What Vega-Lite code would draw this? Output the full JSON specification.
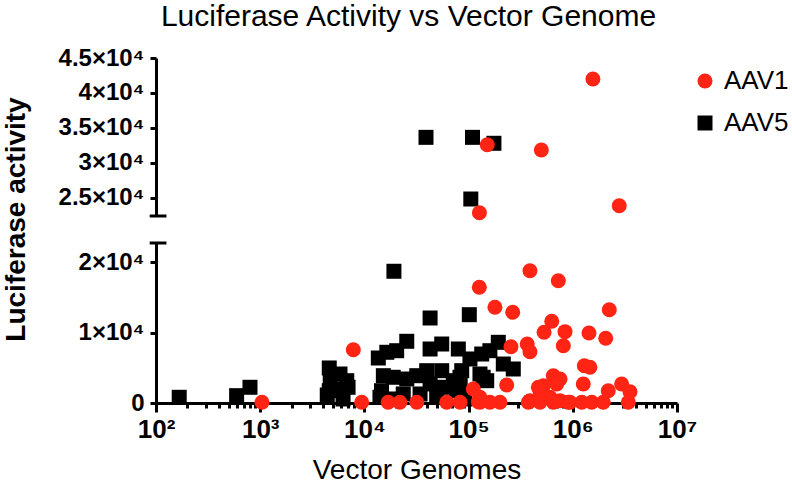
{
  "$schema": "https://vega.github.io/schema/vega-lite/v6.json",
  "background": "white",
  "padding": {"left": 2, "top": 2, "right": 0, "bottom": 0},
  "title": {"text": "Luciferase Activity vs Vector Genome", "font": "Liberation Sans", "fontSize": 30, "fontWeight": "normal", "color": "#000000", "anchor": "middle", "offset": 14, "dx": 13},
  "datasets": {
    "pts": [
      {"vector": "AAV5", "vg": 39000, "luc": 33650},
      {"vector": "AAV5", "vg": 109000, "luc": 33650},
      {"vector": "AAV5", "vg": 175000, "luc": 32800},
      {"vector": "AAV5", "vg": 105000, "luc": 24830},
      {"vector": "AAV5", "vg": 167, "luc": 810},
      {"vector": "AAV5", "vg": 594, "luc": 1040},
      {"vector": "AAV5", "vg": 798, "luc": 2230},
      {"vector": "AAV5", "vg": 4600, "luc": 4970},
      {"vector": "AAV5", "vg": 5830, "luc": 4115},
      {"vector": "AAV5", "vg": 6770, "luc": 3165},
      {"vector": "AAV5", "vg": 4600, "luc": 1745},
      {"vector": "AAV5", "vg": 5830, "luc": 1990},
      {"vector": "AAV5", "vg": 6970, "luc": 2230},
      {"vector": "AAV5", "vg": 6240, "luc": 570},
      {"vector": "AAV5", "vg": 4700, "luc": 3165},
      {"vector": "AAV5", "vg": 4400, "luc": 1135},
      {"vector": "AAV5", "vg": 25500, "luc": 8755},
      {"vector": "AAV5", "vg": 20400, "luc": 7420},
      {"vector": "AAV5", "vg": 16400, "luc": 7195},
      {"vector": "AAV5", "vg": 13600, "luc": 6385},
      {"vector": "AAV5", "vg": 42700, "luc": 12060},
      {"vector": "AAV5", "vg": 19200, "luc": 18690},
      {"vector": "AAV5", "vg": 15200, "luc": 3875},
      {"vector": "AAV5", "vg": 18900, "luc": 3650},
      {"vector": "AAV5", "vg": 14600, "luc": 1745},
      {"vector": "AAV5", "vg": 25500, "luc": 3405},
      {"vector": "AAV5", "vg": 31800, "luc": 3875},
      {"vector": "AAV5", "vg": 39600, "luc": 4585},
      {"vector": "AAV5", "vg": 42700, "luc": 2700},
      {"vector": "AAV5", "vg": 23600, "luc": 1280},
      {"vector": "AAV5", "vg": 34200, "luc": 1280},
      {"vector": "AAV5", "vg": 14100, "luc": 810},
      {"vector": "AAV5", "vg": 49400, "luc": 810},
      {"vector": "AAV5", "vg": 42700, "luc": 7660},
      {"vector": "AAV5", "vg": 55200, "luc": 8370},
      {"vector": "AAV5", "vg": 79700, "luc": 7660},
      {"vector": "AAV5", "vg": 55200, "luc": 4585},
      {"vector": "AAV5", "vg": 57200, "luc": 2230},
      {"vector": "AAV5", "vg": 71300, "luc": 3165},
      {"vector": "AAV5", "vg": 76900, "luc": 1745},
      {"vector": "AAV5", "vg": 101600, "luc": 12530},
      {"vector": "AAV5", "vg": 103000, "luc": 6245},
      {"vector": "AAV5", "vg": 133600, "luc": 6950},
      {"vector": "AAV5", "vg": 160000, "luc": 7420},
      {"vector": "AAV5", "vg": 192800, "luc": 8610},
      {"vector": "AAV5", "vg": 215300, "luc": 5530},
      {"vector": "AAV5", "vg": 268500, "luc": 4825},
      {"vector": "AAV5", "vg": 85900, "luc": 4585},
      {"vector": "AAV5", "vg": 128500, "luc": 4115},
      {"vector": "AAV5", "vg": 149200, "luc": 3165},
      {"vector": "AAV5", "vg": 138000, "luc": 3650},
      {"vector": "AAV5", "vg": 82600, "luc": 3650},
      {"vector": "AAV5", "vg": 82600, "luc": 2455},
      {"vector": "AAV5", "vg": 19700, "luc": 570},
      {"vector": "AAV5", "vg": 92000, "luc": 570},
      {"vector": "AAV1", "vg": 1560000, "luc": 42000},
      {"vector": "AAV1", "vg": 151000, "luc": 32600},
      {"vector": "AAV1", "vg": 499000, "luc": 31840},
      {"vector": "AAV1", "vg": 127000, "luc": 22870},
      {"vector": "AAV1", "vg": 2790000, "luc": 23870},
      {"vector": "AAV1", "vg": 1040, "luc": 100},
      {"vector": "AAV1", "vg": 7830, "luc": 7560},
      {"vector": "AAV1", "vg": 9420, "luc": 100},
      {"vector": "AAV1", "vg": 16900, "luc": 100},
      {"vector": "AAV1", "vg": 21900, "luc": 100},
      {"vector": "AAV1", "vg": 31800, "luc": 100},
      {"vector": "AAV1", "vg": 61600, "luc": 100},
      {"vector": "AAV1", "vg": 82700, "luc": 100},
      {"vector": "AAV1", "vg": 124000, "luc": 185},
      {"vector": "AAV1", "vg": 111000, "luc": 1990},
      {"vector": "AAV1", "vg": 128500, "luc": 810},
      {"vector": "AAV1", "vg": 126700, "luc": 16420},
      {"vector": "AAV1", "vg": 179000, "luc": 13580},
      {"vector": "AAV1", "vg": 265000, "luc": 12870},
      {"vector": "AAV1", "vg": 388000, "luc": 18770},
      {"vector": "AAV1", "vg": 726000, "luc": 17350},
      {"vector": "AAV1", "vg": 2240000, "luc": 13240},
      {"vector": "AAV1", "vg": 628000, "luc": 11590},
      {"vector": "AAV1", "vg": 530000, "luc": 10030},
      {"vector": "AAV1", "vg": 842000, "luc": 10120},
      {"vector": "AAV1", "vg": 1430000, "luc": 9930},
      {"vector": "AAV1", "vg": 2070000, "luc": 9180},
      {"vector": "AAV1", "vg": 365000, "luc": 8370},
      {"vector": "AAV1", "vg": 388000, "luc": 7280},
      {"vector": "AAV1", "vg": 811000, "luc": 8130},
      {"vector": "AAV1", "vg": 255000, "luc": 7990},
      {"vector": "AAV1", "vg": 232000, "luc": 2555},
      {"vector": "AAV1", "vg": 1290000, "luc": 5290},
      {"vector": "AAV1", "vg": 1460000, "luc": 5070},
      {"vector": "AAV1", "vg": 2940000, "luc": 2700},
      {"vector": "AAV1", "vg": 3540000, "luc": 1600},
      {"vector": "AAV1", "vg": 2190000, "luc": 1745},
      {"vector": "AAV1", "vg": 1260000, "luc": 2700},
      {"vector": "AAV1", "vg": 650000, "luc": 3875},
      {"vector": "AAV1", "vg": 754000, "luc": 3405},
      {"vector": "AAV1", "vg": 467000, "luc": 2230},
      {"vector": "AAV1", "vg": 521000, "luc": 2455},
      {"vector": "AAV1", "vg": 701000, "luc": 2700},
      {"vector": "AAV1", "vg": 484000, "luc": 1745},
      {"vector": "AAV1", "vg": 604000, "luc": 810},
      {"vector": "AAV1", "vg": 388000, "luc": 330},
      {"vector": "AAV1", "vg": 754000, "luc": 330},
      {"vector": "AAV1", "vg": 906000, "luc": 100},
      {"vector": "AAV1", "vg": 160000, "luc": 100},
      {"vector": "AAV1", "vg": 200000, "luc": 100},
      {"vector": "AAV1", "vg": 374000, "luc": 100},
      {"vector": "AAV1", "vg": 484000, "luc": 100},
      {"vector": "AAV1", "vg": 650000, "luc": 100},
      {"vector": "AAV1", "vg": 940000, "luc": 100},
      {"vector": "AAV1", "vg": 1220000, "luc": 100},
      {"vector": "AAV1", "vg": 1520000, "luc": 100},
      {"vector": "AAV1", "vg": 1960000, "luc": 100},
      {"vector": "AAV1", "vg": 3410000, "luc": 100},
      {"vector": "AAV1", "vg": 128500, "luc": 100}
    ]
  },
  "spacing": 27,
  "bounds": "flush",
  "resolve": {"scale": {"y": "independent", "x": "shared", "color": "shared", "shape": "shared"}},
  "config": {
    "view": {"stroke": null},
    "axis": {"domainColor": "#000000", "domainWidth": 3, "tickColor": "#000000", "tickWidth": 3, "labelColor": "#000000", "labelFont": "Liberation Sans", "labelFontWeight": "bold", "grid": false, "titleColor": "#000000", "titleFont": "Liberation Sans"},
    "legend": {"orient": "none", "legendX": 536, "legendY": 10, "title": null, "labelFontSize": 26, "labelFont": "Liberation Sans", "labelColor": "#000000", "symbolSize": 225, "rowPadding": 16, "labelOffset": 6, "symbolStrokeWidth": 0, "symbolOpacity": 1, "labelLimit": 0}
  },
  "vconcat": [
    {
      "width": 521,
      "height": 158,
      "layer": [
        {
          "data": {"name": "pts"},
          "transform": [{"filter": "datum.luc > 22600"}],
          "mark": {"type": "point", "filled": true, "opacity": 1, "size": 225, "strokeWidth": 0},
          "encoding": {
            "x": {"field": "vg", "type": "quantitative", "scale": {"type": "log", "domain": [100, 10000000]}, "axis": null},
            "y": {"field": "luc", "type": "quantitative", "scale": {"domain": [22400, 45000], "nice": false, "zero": false},
                  "axis": {"title": null, "values": [25000, 30000, 35000, 40000, 45000], "labelExpr": "format(datum.value/10000, '.2~f') + '×10⁴'", "labelFontSize": 24, "tickSize": 6, "labelPadding": 6}},
            "color": {"field": "vector", "type": "nominal", "scale": {"domain": ["AAV1", "AAV5"], "range": ["#ff2413", "#000000"]}, "legend": {"title": null}},
            "shape": {"field": "vector", "type": "nominal", "scale": {"domain": ["AAV1", "AAV5"], "range": ["circle", "square"]}, "legend": {"title": null}},
            "order": {"field": "vector", "sort": "descending"}
          }
        },
        {
          "data": {"values": [{}]},
          "mark": {"type": "rule", "strokeWidth": 3, "color": "#000000"},
          "encoding": {
            "x": {"datum": 87, "type": "quantitative", "axis": null},
            "x2": {"datum": 126},
            "y": {"datum": 22400, "type": "quantitative",
                  "axis": {"title": null, "values": [25000, 30000, 35000, 40000, 45000], "labelExpr": "format(datum.value/10000, '.2~f') + '×10⁴'", "labelFontSize": 24, "tickSize": 6, "labelPadding": 6}}
          }
        }
      ]
    },
    {
      "width": 521,
      "height": 160,
      "layer": [
        {
          "data": {"name": "pts"},
          "transform": [{"filter": "datum.luc < 22600"}],
          "mark": {"type": "point", "filled": true, "opacity": 1, "size": 225, "strokeWidth": 0},
          "encoding": {
            "x": {"field": "vg", "type": "quantitative", "scale": {"type": "log", "domain": [100, 10000000]},
                  "axis": {"title": "Vector Genomes", "titleFontSize": 28, "titleFontWeight": "normal", "titlePadding": 14,
                           "values": [100,200,300,400,500,600,700,800,900,1000,2000,3000,4000,5000,6000,7000,8000,9000,10000,20000,30000,40000,50000,60000,70000,80000,90000,100000,200000,300000,400000,500000,600000,700000,800000,900000,1000000,2000000,3000000,4000000,5000000,6000000,7000000,8000000,9000000,10000000],
                           "labelExpr": "indexof([100,1000,10000,100000,1000000,10000000], datum.value) >= 0 ? '10' + ['²','³','⁴','⁵','⁶','⁷'][indexof([100,1000,10000,100000,1000000,10000000], datum.value)] : ''",
                           "tickSize": {"condition": {"test": "indexof([100,1000,10000,100000,1000000,10000000], datum.value) >= 0", "value": 9}, "value": 5},
                           "labelFontSize": 26, "labelPadding": 4, "labelOverlap": false, "labelFlush": false}},
            "y": {"field": "luc", "type": "quantitative", "scale": {"domain": [0, 22700], "nice": false},
                  "axis": {"title": "Luciferase activity", "titleFontSize": 28, "titleFontWeight": "bold", "titleX": -132, "titleY": -24, "titleBaseline": "alphabetic", "titleAlign": "center", "titleAngle": -90,
                           "values": [0, 10000, 20000], "labelExpr": "datum.value == 0 ? '0' : format(datum.value/10000, '.2~f') + '×10⁴'", "labelFontSize": 24, "tickSize": 6, "labelPadding": 6}},
            "color": {"field": "vector", "type": "nominal", "scale": {"domain": ["AAV1", "AAV5"], "range": ["#ff2413", "#000000"]}, "legend": {"title": null}},
            "shape": {"field": "vector", "type": "nominal", "scale": {"domain": ["AAV1", "AAV5"], "range": ["circle", "square"]}, "legend": {"title": null}},
            "order": {"field": "vector", "sort": "descending"}
          }
        },
        {
          "data": {"values": [{}]},
          "mark": {"type": "rule", "strokeWidth": 3, "color": "#000000"},
          "encoding": {
            "x": {"datum": 87, "type": "quantitative"},
            "x2": {"datum": 126},
            "y": {"datum": 22700, "type": "quantitative"}
          }
        }
      ]
    }
  ]
}
